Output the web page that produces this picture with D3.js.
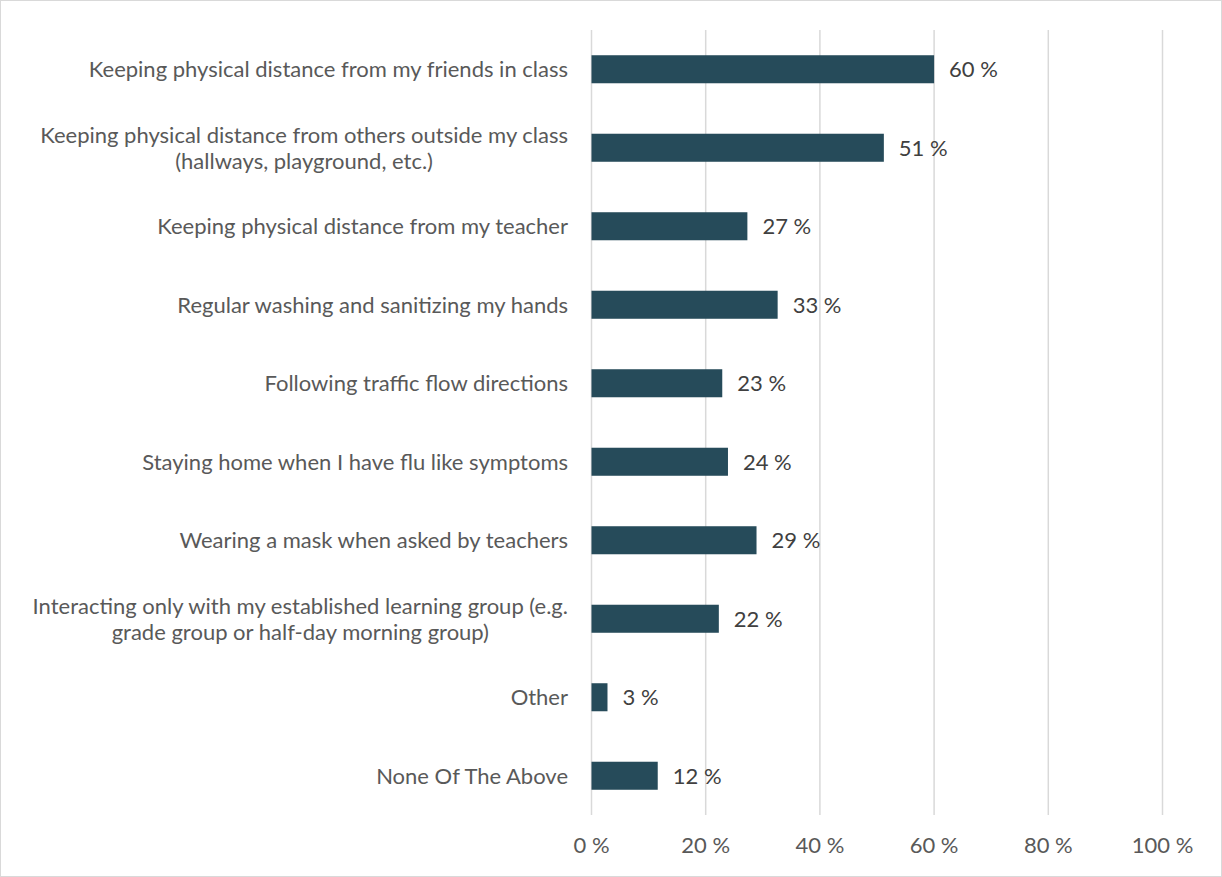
<!DOCTYPE html>
<html><head><meta charset="utf-8">
<script src="https://cdn.jsdelivr.net/npm/d3@7/dist/d3.min.js"></script>
<style>body{margin:0;background:#fff}svg{display:block}</style>
</head><body>
<svg id="c" width="1222" height="877"></svg>
<script>
const categories = [
  ["Keeping physical distance from my friends in class"],
  ["Keeping physical distance from others outside my class", "(hallways, playground, etc.)"],
  ["Keeping physical distance from my teacher"],
  ["Regular washing and sanitizing my hands"],
  ["Following traffic flow directions"],
  ["Staying home when I have flu like symptoms"],
  ["Wearing a mask when asked by teachers"],
  ["Interacting only with my established learning group (e.g.", "grade group or half-day morning group)"],
  ["Other"],
  ["None Of The Above"]
];
const values = [60.0, 51.2, 27.3, 32.6, 22.9, 23.9, 28.9, 22.3, 2.8, 11.6];
const valueLabels = ["60 %", "51 %", "27 %", "33 %", "23 %", "24 %", "29 %", "22 %", "3 %", "12 %"];
const tickValues = [0, 20, 40, 60, 80, 100];
const tickLabels = ["0 %", "20 %", "40 %", "60 %", "80 %", "100 %"];

const svg = d3.select("#c");
const font = "Lato, 'Open Sans', sans-serif";
const fs = 22;
svg.append("rect").attr("x",0.5).attr("y",0.5).attr("width",1221).attr("height",876)
  .attr("fill","#fff").attr("stroke","#d9d9d9");

const x = d3.scaleLinear().domain([0,100]).range([591.5,1162.5]);
const y = d3.scaleBand().domain(d3.range(categories.length)).range([30,815])
  .paddingInner(0.643).paddingOuter(0.3215);

// gridlines
svg.append("g").selectAll("line").data(tickValues).join("line")
  .attr("x1",d=>x(d)).attr("x2",d=>x(d)).attr("y1",30).attr("y2",815)
  .attr("stroke","#d9d9d9").attr("stroke-width",1.5);

// tick labels
svg.append("g").selectAll("text").data(tickValues).join("text")
  .attr("x",d=>x(d)).attr("y",853).attr("text-anchor","middle")
  .attr("font-family",font).attr("font-size",fs).attr("fill","#595959")
  .text((d,i)=>tickLabels[i]);

// bars
svg.append("g").selectAll("rect").data(values).join("rect")
  .attr("x",x(0)).attr("y",(d,i)=>y(i)).attr("width",d=>x(d)-x(0)).attr("height",y.bandwidth())
  .attr("fill","#264b5a");

// value labels
svg.append("g").selectAll("text").data(values).join("text")
  .attr("x",d=>x(d)+15).attr("y",(d,i)=>y(i)+y.bandwidth()/2+8)
  .attr("font-family",font).attr("font-size",fs).attr("fill","#404040")
  .text((d,i)=>valueLabels[i]);

// category labels
const lh = 26;
const cg = svg.append("g");
categories.forEach((lines,i)=>{
  const cy = y(i)+y.bandwidth()/2;
  const t = cg.append("text").attr("font-family",font).attr("font-size",fs).attr("fill","#595959")
    .attr("text-anchor","middle");
  lines.forEach((ln,j)=>{
    t.append("tspan").attr("x",0).attr("y",cy+8+(j-(lines.length-1)/2)*lh).text(ln);
  });
  const w = t.node().getBBox().width;
  t.selectAll("tspan").attr("x",568-w/2);
});
</script>
</body></html>
